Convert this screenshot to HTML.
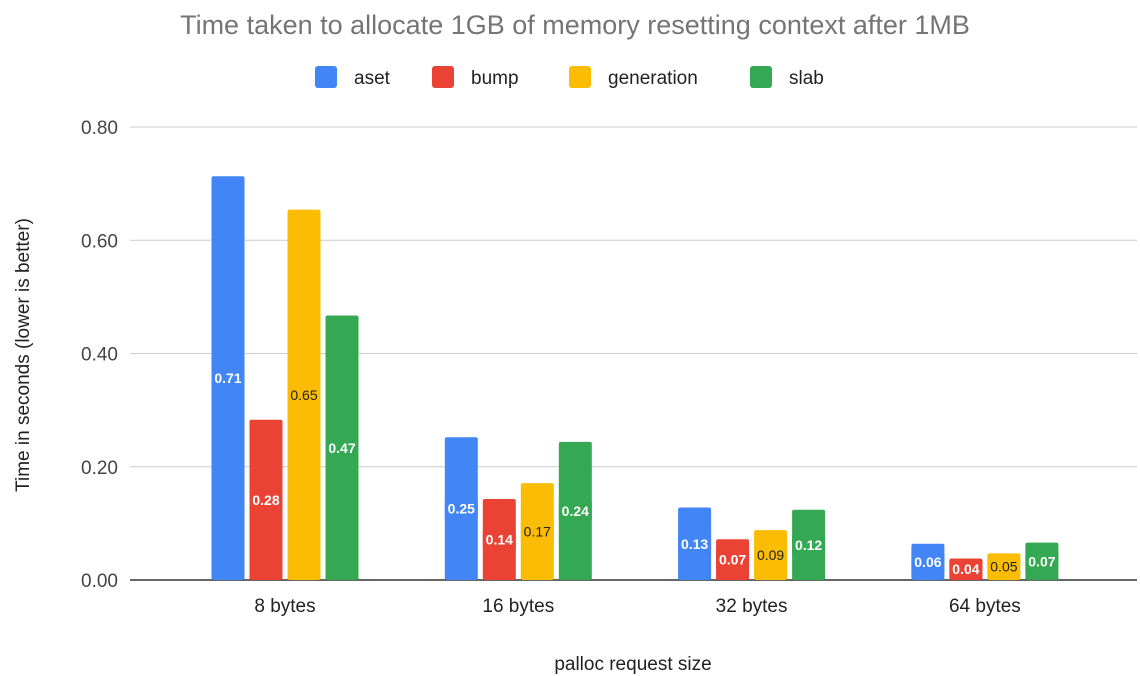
<!DOCTYPE html>
<html><head><meta charset="utf-8"><style>
body{margin:0;background:#fff;font-family:"Liberation Sans",Arial,sans-serif}
svg{display:block}
</style></head><body>
<svg id="chart" width="1140" height="676" xmlns="http://www.w3.org/2000/svg">
<text x="575" y="34" text-anchor="middle" font-size="27" fill="#757575">Time taken to allocate 1GB of memory resetting context after 1MB</text>
<g id="legend"></g>
<g id="grid"></g>
<g id="bars"></g>
<g id="xlabels"></g>
<text transform="translate(29,355) rotate(-90)" text-anchor="middle" font-size="19" fill="#222">Time in seconds (lower is better)</text>
<text x="633" y="670" text-anchor="middle" font-size="19" fill="#222">palloc request size</text>
</svg>
<script>
const categories=["8 bytes","16 bytes","32 bytes","64 bytes"];
const seriesNames=["aset","bump","generation","slab"];
const aset=[0.713,0.252,0.128,0.064];
const bump=[0.283,0.143,0.072,0.038];
const generation=[0.654,0.171,0.088,0.047];
const slab=[0.467,0.244,0.124,0.066];
const yTicks=[0,0.2,0.4,0.6,0.8];
const colors=["#4285f4","#ea4335","#fbbc04","#34a853"];
const series=[aset,bump,generation,slab];
const NS="http://www.w3.org/2000/svg";
const L=130,R=1137,Y0=580,Y1=127,YMAX=0.8;
const y=v=>Y0-(v/YMAX)*(Y0-Y1);
const x=i=>285+233.3*i;
function mk(t,a,p){const e=document.createElementNS(NS,t);for(const k in a)e.setAttribute(k,a[k]);p.appendChild(e);return e;}
const grid=document.getElementById('grid');
yTicks.forEach(t=>{
  const l=mk('line',{x1:L,x2:R,y1:y(t),y2:y(t),stroke:t===0?'#333':'#ccc','stroke-width':t===0?1.5:1},grid);
  
  
  const tx=mk('text',{x:118,y:y(t)+7,'text-anchor':'end','font-size':19,fill:'#444'},grid);
  tx.textContent=t.toFixed(2);
  
  
});
const bars=document.getElementById('bars');
const bw=33,gap=5;
categories.forEach((c,i)=>{
  const cx=x(i);
  series.forEach((s,j)=>{
    const bx=cx-2*bw-1.5*gap+j*(bw+gap);
    const r=mk('rect',{x:bx,y:y(s[i]),width:bw,height:Y0-y(s[i]),fill:colors[j],rx:2},bars);
    
    
    const my=(y(s[i])+Y0)/2;
    const lbl=s[i].toFixed(2);
    const bg=mk('rect',{x:bx,y:my-9,width:bw,height:18,fill:colors[j]},bars);
    
    
    const t=mk('text',{x:bx+bw/2,y:my+5,'text-anchor':'middle','font-size':14,fill:j===2?'#222':'#fff','font-weight':j===2?'normal':'bold'},bars);
    t.textContent=lbl;
    
    
  });
  const xl=mk('text',{x:cx,y:612,'text-anchor':'middle','font-size':19,fill:'#222'},document.getElementById('xlabels'));
  xl.textContent=c;
  
  
});
const lg=document.getElementById('legend');
const lx=[315,432,569,750];
seriesNames.forEach((n,j)=>{
  const r=mk('rect',{x:lx[j],y:66,width:22,height:22,rx:3,fill:colors[j]},lg);
  
  
  const t=mk('text',{x:lx[j]+39,y:84,'font-size':19,fill:'#222'},lg);
  t.textContent=n;
  
  
});
</script>
</body></html>
